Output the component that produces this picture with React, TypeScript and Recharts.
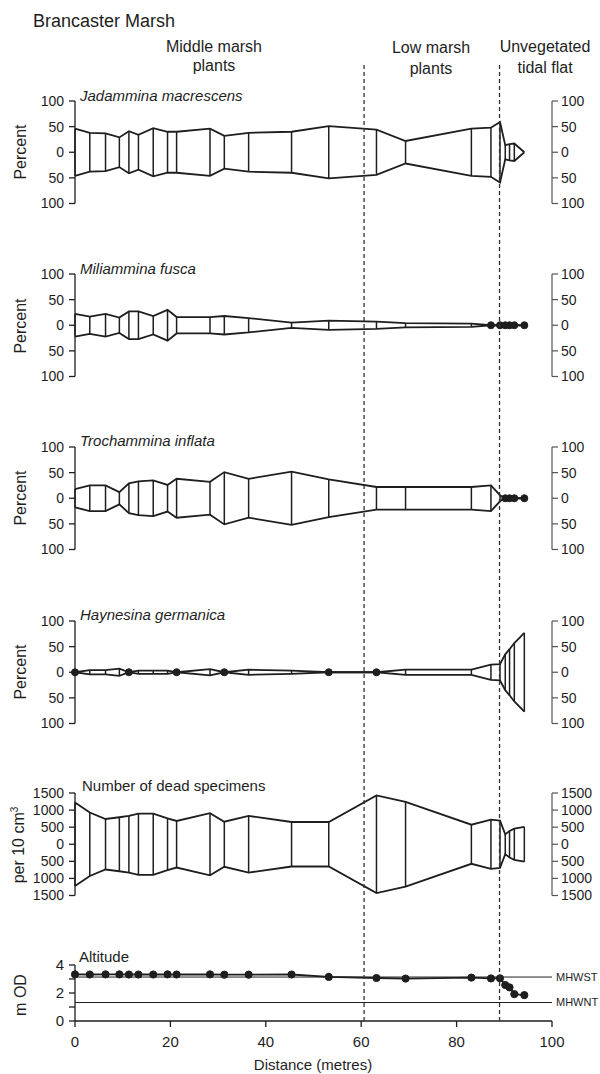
import React from 'react';
import { ComposedChart, Line, XAxis, YAxis, ReferenceLine } from 'recharts';

// ---- data ----
const distance = [0, 3.1, 6.4, 9.3, 11.3, 13.3, 16.4, 19.4, 21.3, 28.3, 31.3, 36.4, 45.4, 53.2, 63.2, 69.3, 83.1, 87.2, 89.1, 90.2, 91.1, 92.1, 94.2];
const jadammina = [46, 38, 37, 29, 41, 34, 47, 40, 40, 46, 32, 38, 40, 51, 44, 22, 46, 48, 59, 14, 16, 17, 0];
const miliammina = [22, 17, 22, 15, 27, 27, 18, 30, 16, 16, 18, 14, 5, 9, 7, 4, 3, 0, 0, 0, 0, 0, 0];
const trochammina = [18, 25, 25, 12, 29, 33, 35, 26, 38, 32, 51, 38, 52, 37, 22, 22, 22, 25, 6, 0, 0, 0, 0];
const haynesina = [0, 4, 4, 7, 0, 3, 3, 3, 0, 6, 0, 5, 3, 0, 0, 5, 5, 15, 16, 35, 45, 57, 77];
const deadSpecimens = [1224, 928, 740, 790, 830, 898, 898, 760, 681, 908, 661, 829, 651, 651, 1431, 1243, 572, 720, 690, 290, 390, 455, 510];
const altitude = [3.33, 3.32, 3.33, 3.33, 3.32, 3.32, 3.32, 3.33, 3.32, 3.33, 3.31, 3.31, 3.32, 3.15, 3.07, 3.03, 3.1, 3.04, 3.05, 2.57, 2.4, 1.92, 1.85];

const percentTicks = [-100, -50, 0, 50, 100];
const deadTicks = [-1500, -1000, -500, 0, 500, 1000, 1500];
const altitudeTicks = [0, 1, 2, 3, 4];
const distanceTicks = [0, 20, 40, 60, 80, 100];
const zoneBoundaries = [60.6, 89.0];
const tideLevels = [
  { name: 'MHWST', value: 3.14 },
  { name: 'MHWNT', value: 1.32 },
];

// ---- layout ----
const W = 600;
const PLOT_LEFT = 75;
const PLOT_RIGHT = 552;
const AXIS_W = 45;
const INK = '#1e1e1e';
const FONT = "'Liberation Sans', Arial, Helvetica, sans-serif";

const absFmt = (v: number) => String(Math.abs(v));

type KiteProps = {
  values: number[];
  top: number;
  height: number;
  domain: [number, number];
  ticks: number[];
  zeroDots: boolean;
};

function KitePanel({ values, top, height, domain, ticks, zeroDots }: KiteProps) {
  const pad = 12;
  const rows = distance.map((d, i) => ({
    d,
    v: values[i],
    neg: -values[i],
    zero: values[i] === 0 ? 0 : null,
  }));
  const axisCommon = {
    type: 'number' as const,
    domain,
    ticks,
    interval: 0 as const,
    allowDataOverflow: true,
    tickFormatter: absFmt,
    width: AXIS_W,
    tickSize: 6,
    tick: { fontSize: 14, fill: INK },
  };
  return (
    <div style={{ position: 'absolute', left: 0, top: top - pad, width: W, height: height + 2 * pad }}>
      <ComposedChart
        width={W}
        height={height + 2 * pad}
        data={rows}
        margin={{ top: pad, bottom: pad, left: PLOT_LEFT - AXIS_W, right: W - PLOT_RIGHT - AXIS_W }}
      >
        <XAxis dataKey="d" type="number" domain={[0, 100]} hide />
        <YAxis
          yAxisId="l"
          {...axisCommon}
          tickMargin={5}
          axisLine={{ stroke: INK, strokeWidth: 1.3 }}
          tickLine={{ stroke: INK, strokeWidth: 1.3 }}
        />
        <YAxis
          yAxisId="r"
          orientation="right"
          {...axisCommon}
          tickMargin={3}
          axisLine={{ stroke: '#555', strokeWidth: 1.2 }}
          tickLine={{ stroke: '#555', strokeWidth: 1.2 }}
        />
        {rows
          .filter((r) => r.v > 0)
          .map((r) => (
            <ReferenceLine
              key={'seg' + r.d}
              yAxisId="l"
              segment={[
                { x: r.d, y: -r.v },
                { x: r.d, y: r.v },
              ]}
              stroke={INK}
              strokeWidth={1.5}
            />
          ))}
        <Line yAxisId="l" type="linear" dataKey="v" stroke={INK} strokeWidth={1.8} dot={false} activeDot={false} isAnimationActive={false} />
        <Line yAxisId="l" type="linear" dataKey="neg" stroke={INK} strokeWidth={1.8} dot={false} activeDot={false} isAnimationActive={false} />
        {zeroDots && (
          <Line
            yAxisId="l"
            type="linear"
            dataKey="zero"
            stroke="none"
            dot={{ r: 3.5, fill: INK, stroke: INK, strokeWidth: 1 }}
            activeDot={false}
            isAnimationActive={false}
          />
        )}
      </ComposedChart>
    </div>
  );
}

function AltitudePanel() {
  const top = 965;
  const plotH = 56;
  const padTop = 12;
  const axisH = 40;
  const rows = distance.map((d, i) => ({ d, alt: altitude[i] }));
  return (
    <div style={{ position: 'absolute', left: 0, top: top - padTop, width: W, height: plotH + padTop + axisH }}>
      <ComposedChart
        width={W}
        height={plotH + padTop + axisH}
        data={rows}
        margin={{ top: padTop, bottom: 0, left: PLOT_LEFT - AXIS_W, right: W - PLOT_RIGHT }}
      >
        <XAxis
          dataKey="d"
          type="number"
          domain={[0, 100]}
          ticks={distanceTicks}
          interval={0}
          height={axisH}
          tickSize={6}
          tickMargin={9}
          tick={{ fontSize: 15, fill: INK }}
          axisLine={{ stroke: INK, strokeWidth: 1.3 }}
          tickLine={{ stroke: INK, strokeWidth: 1.3 }}
        />
        <YAxis
          type="number"
          domain={[0, 4]}
          ticks={altitudeTicks}
          interval={0}
          width={AXIS_W}
          tickSize={6}
          tickMargin={5}
          tickFormatter={(v: number) => (v % 2 === 0 ? String(v) : '')}
          tick={{ fontSize: 15, fill: INK }}
          axisLine={{ stroke: INK, strokeWidth: 1.3 }}
          tickLine={{ stroke: INK, strokeWidth: 1.3 }}
        />
        {tideLevels.map((t) => (
          <ReferenceLine key={t.name} y={t.value} stroke={INK} strokeWidth={1} />
        ))}
        <Line
          type="linear"
          dataKey="alt"
          stroke={INK}
          strokeWidth={1.8}
          dot={{ r: 3.6, fill: INK, stroke: INK, strokeWidth: 1 }}
          activeDot={false}
          isAnimationActive={false}
        />
      </ComposedChart>
    </div>
  );
}

function BoundaryOverlay() {
  const top = 65;
  const bottom = 1021;
  const rows = [
    { d: 0, y: 0 },
    { d: 100, y: 1 },
  ];
  return (
    <div style={{ position: 'absolute', left: 0, top: 0, width: W, height: 1074, pointerEvents: 'none' }}>
      <ComposedChart
        width={W}
        height={1074}
        data={rows}
        margin={{ top, bottom: 1074 - bottom, left: PLOT_LEFT, right: W - PLOT_RIGHT }}
      >
        <XAxis dataKey="d" type="number" domain={[0, 100]} hide />
        <YAxis type="number" domain={[0, 1]} hide />
        <Line type="linear" dataKey="y" stroke="none" dot={false} activeDot={false} isAnimationActive={false} />
        {zoneBoundaries.map((b) => (
          <ReferenceLine
            key={b}
            segment={[
              { x: b, y: 0 },
              { x: b, y: 1 },
            ]}
            stroke="#333"
            strokeWidth={1.3}
            strokeDasharray="4 3"
          />
        ))}
      </ComposedChart>
    </div>
  );
}

type TxtProps = { x: number; yc: number; fs: number; children: React.ReactNode; align?: 'left' | 'center'; italic?: boolean };
function Txt({ x, yc, fs, children, align = 'left', italic }: TxtProps) {
  return (
    <div
      style={{
        position: 'absolute',
        left: x,
        top: yc - fs / 2,
        fontSize: fs,
        lineHeight: 1,
        whiteSpace: 'nowrap',
        fontStyle: italic ? 'italic' : 'normal',
        transform: align === 'center' ? 'translateX(-50%)' : undefined,
        color: INK,
      }}
    >
      {children}
    </div>
  );
}

function VTxt({ xc, yc, fs, children }: { xc: number; yc: number; fs: number; children: React.ReactNode }) {
  return (
    <div
      style={{
        position: 'absolute',
        left: xc,
        top: yc,
        fontSize: fs,
        lineHeight: 1,
        whiteSpace: 'nowrap',
        transform: 'translate(-50%, -50%) rotate(-90deg)',
        color: INK,
      }}
    >
      {children}
    </div>
  );
}

export default function App() {
  const panels = [
    { name: 'Jadammina macrescens', values: jadammina, top: 101, zeroDots: false },
    { name: 'Miliammina fusca', values: miliammina, top: 274.3, zeroDots: true },
    { name: 'Trochammina inflata', values: trochammina, top: 446.7, zeroDots: true },
    { name: 'Haynesina germanica', values: haynesina, top: 620.7, zeroDots: true },
  ];
  const PH = 102.5;
  return (
    <div
      style={{
        position: 'absolute',
        left: 0,
        top: 0,
        width: W,
        height: 1074,
        overflow: 'hidden',
        background: '#fff',
        fontFamily: FONT,
        color: INK,
      }}
    >
      {panels.map((p) => (
        <KitePanel key={p.name} values={p.values} top={p.top} height={PH} domain={[-100, 100]} ticks={percentTicks} zeroDots={p.zeroDots} />
      ))}
      <KitePanel values={deadSpecimens} top={793.3} height={PH} domain={[-1500, 1500]} ticks={deadTicks} zeroDots={false} />
      <AltitudePanel />
      <BoundaryOverlay />

      <Txt x={33} yc={21} fs={18}>Brancaster Marsh</Txt>
      <Txt x={214} yc={46.5} fs={16} align="center">Middle marsh</Txt>
      <Txt x={214} yc={65.5} fs={16} align="center">plants</Txt>
      <Txt x={431} yc={48} fs={16} align="center">Low marsh</Txt>
      <Txt x={431} yc={69} fs={16} align="center">plants</Txt>
      <Txt x={545} yc={46.5} fs={16} align="center">Unvegetated</Txt>
      <Txt x={545} yc={68} fs={16} align="center">tidal flat</Txt>

      {panels.map((p) => (
        <Txt key={'t' + p.name} x={80} yc={p.top - 6} fs={15} italic>
          {p.name}
        </Txt>
      ))}
      <Txt x={82} yc={785} fs={15}>Number of dead specimens</Txt>
      <Txt x={79} yc={956.5} fs={15}>Altitude</Txt>

      {panels.map((p) => (
        <VTxt key={'v' + p.name} xc={21} yc={p.top + PH / 2} fs={16}>
          Percent
        </VTxt>
      ))}
      <VTxt xc={19} yc={844.5} fs={16}>
        <span>
          per 10 cm<sup style={{ fontSize: 10, verticalAlign: 'super', lineHeight: 0 }}>3</sup>
        </span>
      </VTxt>
      <VTxt xc={21} yc={995} fs={16}>m OD</VTxt>

      {tideLevels.map((t) => (
        <Txt key={'tl' + t.name} x={556} yc={1021 - (t.value / 4) * 56} fs={11}>
          {t.name}
        </Txt>
      ))}
      <Txt x={313} yc={1064} fs={15} align="center">Distance (metres)</Txt>
    </div>
  );
}
